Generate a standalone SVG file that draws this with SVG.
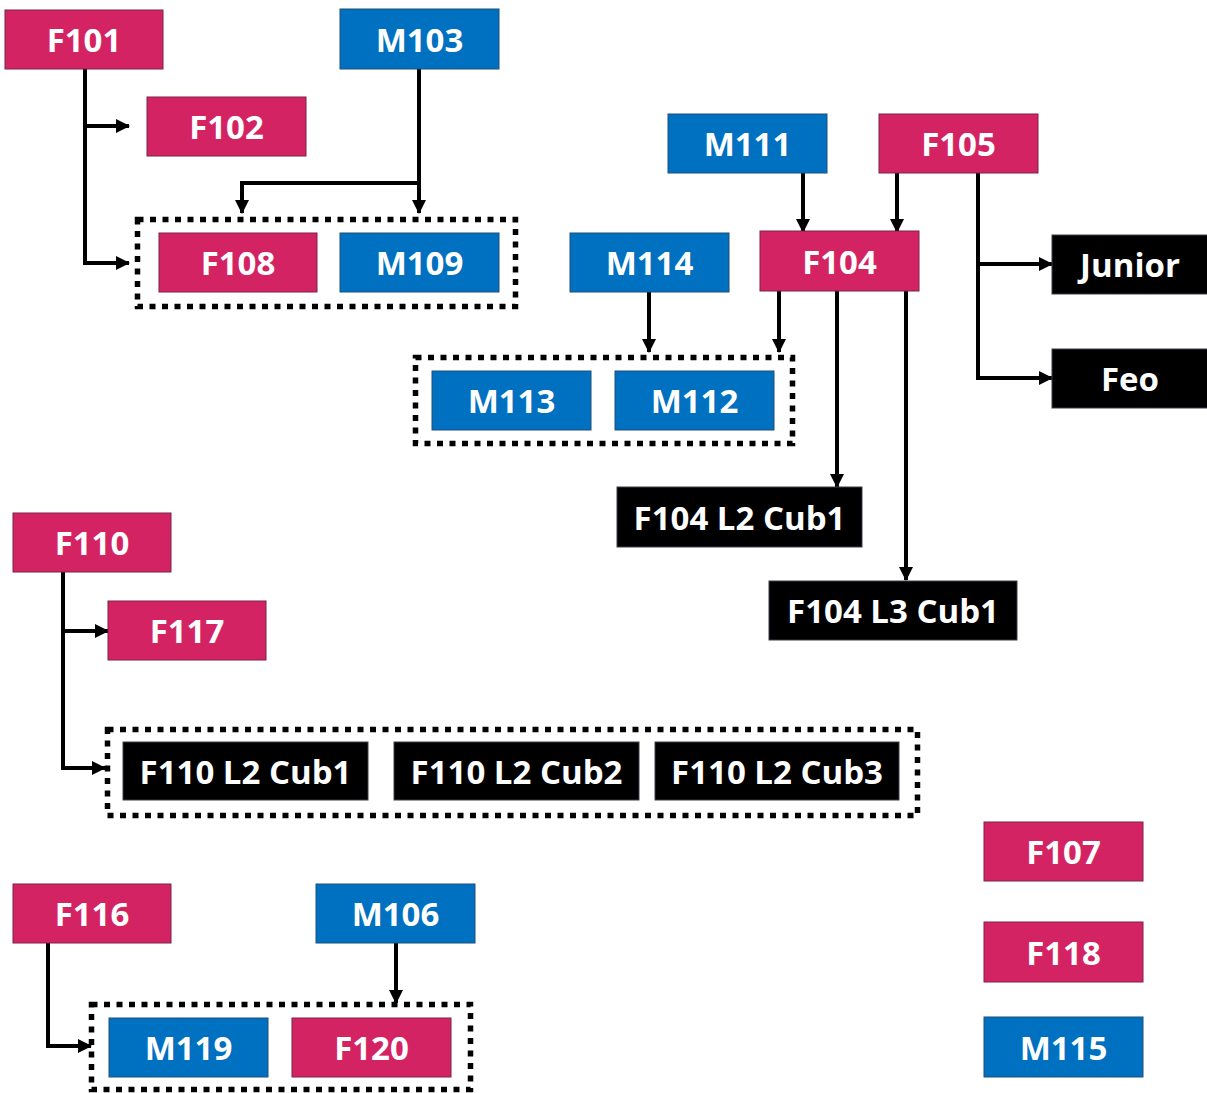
<svg xmlns="http://www.w3.org/2000/svg" width="1207" height="1093" viewBox="0 0 1207 1093">
<style>
.f{fill:#D42362;stroke:#7a2348;stroke-width:1}
.m{fill:#0070C0;stroke:#1f4e79;stroke-width:1}
.k{fill:#000;stroke:#3a3f4a;stroke-width:1}
.t{fill:#fff;font-family:"Open Sans","Liberation Sans",sans-serif;font-weight:bold;font-size:33px;text-anchor:middle}
.grp{fill:none;stroke:#000;stroke-width:5.5;stroke-dasharray:6 6.5}
.c{fill:none;stroke:#000;stroke-width:4;marker-end:url(#ah)}
.c0{fill:none;stroke:#000;stroke-width:4}
</style>
<defs>
<marker id="ah" markerUnits="userSpaceOnUse" markerWidth="14" markerHeight="14" refX="13" refY="7" orient="auto">
<path d="M0,0 L14,7 L0,14 z" fill="#000"/>
</marker>
</defs>
<rect width="1207" height="1093" fill="#fff"/>
<g id="groups">
<rect class="grp" x="137.5" y="219.5" width="378" height="87"/>
<rect class="grp" x="415.5" y="357.5" width="377" height="86"/>
<rect class="grp" x="107.5" y="729.5" width="810" height="86"/>
<rect class="grp" x="91.5" y="1004.5" width="379" height="85"/>
</g>
<g id="connectors">
<path class="c0" d="M85,69 V126"/>
<path class="c" d="M85,126 V263 H129"/>
<path class="c" d="M85,126 H129"/>
<path class="c0" d="M419,69 V183"/>
<path class="c" d="M419,183 V213"/>
<path class="c" d="M419,183 H242 V213"/>
<path class="c" d="M803,173 V232"/>
<path class="c" d="M897,173 V232"/>
<path class="c" d="M649,292 V352"/>
<path class="c" d="M779,291 V352"/>
<path class="c" d="M837,291 V487"/>
<path class="c" d="M906,291 V580"/>
<path class="c0" d="M978,173 V264"/>
<path class="c" d="M978,264 V378 H1052"/>
<path class="c" d="M978,264 H1052"/>
<path class="c0" d="M63,572 V631"/>
<path class="c" d="M63,631 V768 H105"/>
<path class="c" d="M63,631 H108"/>
<path class="c" d="M48,943 V1046 H91"/>
<path class="c" d="M396,943 V1003"/>
</g>
<g id="F101"><rect class="f" x="5" y="10" width="158" height="59"/><text class="t" x="84" y="52">F101</text></g>
<g id="F102"><rect class="f" x="147" y="97" width="159" height="59"/><text class="t" x="226.5" y="139">F102</text></g>
<g id="M103"><rect class="m" x="340" y="9" width="159" height="60"/><text class="t" x="419.5" y="51.5">M103</text></g>
<g id="F108"><rect class="f" x="159" y="233" width="158" height="59"/><text class="t" x="238" y="275">F108</text></g>
<g id="M109"><rect class="m" x="340" y="233" width="159" height="59"/><text class="t" x="419.5" y="275">M109</text></g>
<g id="M111"><rect class="m" x="668" y="114" width="159" height="59"/><text class="t" x="747.5" y="156">M111</text></g>
<g id="F105"><rect class="f" x="879" y="114" width="159" height="59"/><text class="t" x="958.5" y="156">F105</text></g>
<g id="M114"><rect class="m" x="570" y="233" width="159" height="59"/><text class="t" x="649.5" y="275">M114</text></g>
<g id="F104"><rect class="f" x="760" y="231" width="159" height="60"/><text class="t" x="839.5" y="273.5">F104</text></g>
<g id="Junior"><rect class="k" x="1052" y="235" width="158" height="59"/><text class="t" x="1130" y="277">Junior</text></g>
<g id="Feo"><rect class="k" x="1052" y="349" width="158" height="59"/><text class="t" x="1130" y="391">Feo</text></g>
<g id="M113"><rect class="m" x="432" y="371" width="159" height="59"/><text class="t" x="511.5" y="413">M113</text></g>
<g id="M112"><rect class="m" x="615" y="371" width="159" height="59"/><text class="t" x="694.5" y="413">M112</text></g>
<g id="F104L2Cub1"><rect class="k" x="617" y="487" width="245" height="60"/><text class="t" x="739.5" y="529.5">F104 L2 Cub1</text></g>
<g id="F104L3Cub1"><rect class="k" x="769" y="581" width="248" height="59"/><text class="t" x="893" y="623">F104 L3 Cub1</text></g>
<g id="F110"><rect class="f" x="13" y="513" width="158" height="59"/><text class="t" x="92" y="555">F110</text></g>
<g id="F117"><rect class="f" x="108" y="601" width="158" height="59"/><text class="t" x="187" y="643">F117</text></g>
<g id="F110L2Cub1"><rect class="k" x="123" y="742" width="245" height="58"/><text class="t" x="245.5" y="783.5">F110 L2 Cub1</text></g>
<g id="F110L2Cub2"><rect class="k" x="394" y="742" width="245" height="58"/><text class="t" x="516.5" y="783.5">F110 L2 Cub2</text></g>
<g id="F110L2Cub3"><rect class="k" x="655" y="742" width="244" height="58"/><text class="t" x="777" y="783.5">F110 L2 Cub3</text></g>
<g id="F107"><rect class="f" x="984" y="822" width="159" height="59"/><text class="t" x="1063.5" y="864">F107</text></g>
<g id="F118"><rect class="f" x="984" y="922" width="159" height="60"/><text class="t" x="1063.5" y="964.5">F118</text></g>
<g id="M115"><rect class="m" x="984" y="1017" width="159" height="60"/><text class="t" x="1063.5" y="1059.5">M115</text></g>
<g id="F116"><rect class="f" x="13" y="884" width="158" height="59"/><text class="t" x="92" y="926">F116</text></g>
<g id="M106"><rect class="m" x="316" y="884" width="159" height="59"/><text class="t" x="395.5" y="926">M106</text></g>
<g id="M119"><rect class="m" x="109" y="1018" width="159" height="59"/><text class="t" x="188.5" y="1060">M119</text></g>
<g id="F120"><rect class="f" x="292" y="1018" width="159" height="59"/><text class="t" x="371.5" y="1060">F120</text></g>
</svg>
